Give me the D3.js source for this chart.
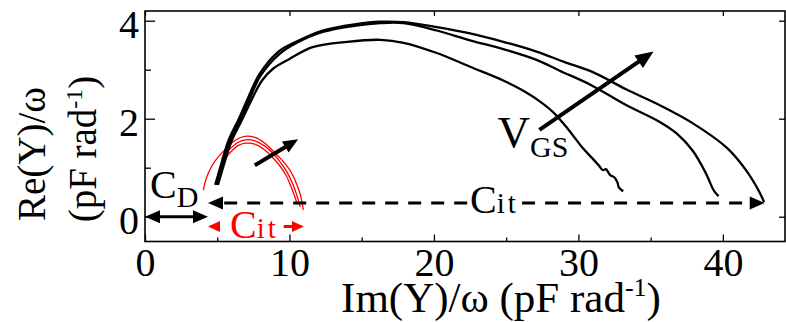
<!DOCTYPE html>
<html>
<head>
<meta charset="utf-8">
<script src="https://cdn.jsdelivr.net/npm/d3@7"></script>
<style>
  body { margin: 0; background: #fff; }
  svg { display: block; }
  text { font-family: "Liberation Serif", "Times New Roman", serif; }
</style>
</head>
<body>
<svg id="chart" width="786" height="322"></svg>
<script>
// Axis ticks
const xTicks = [0, 10, 20, 30, 40];
const xMinorTicks = [5, 15, 25, 35];
const yTicks = [0, 2, 4];
const yMinorTicks = [1, 3];

// Admittance loci [Im(Y)/ω, Re(Y)/ω] in pF rad^-1, three gate biases
const locusLow = [
  [5.05, 0.65], [5.5, 1.1], [6.0, 1.55], [6.7, 1.97], [7.4, 2.4], [8.1, 2.78], [8.9, 3.03],
  [10.0, 3.22], [11.6, 3.46], [14.0, 3.57], [16.3, 3.61], [17.9, 3.55], [20.2, 3.34],
  [22.5, 3.06], [24.8, 2.78], [26.0, 2.6], [27.2, 2.38], [28.3, 2.12], [29.3, 1.78],
  [30.3, 1.4], [31.0, 1.18], [31.4, 1.05], [31.7, 0.95], [31.9, 0.97], [32.2, 0.85],
  [32.5, 0.8], [32.7, 0.7], [32.8, 0.6], [33.1, 0.52]
];
const locusMid = [
  [4.96, 0.65], [5.4, 1.1], [5.9, 1.55], [6.6, 1.99], [7.3, 2.45], [8.0, 2.88], [9.3, 3.32],
  [10.45, 3.54], [12.3, 3.77], [14.6, 3.9], [16.3, 3.95], [17.9, 3.95], [20.2, 3.8],
  [22.5, 3.6], [24.8, 3.42], [27.1, 3.2], [28.7, 2.98], [30.8, 2.7], [33.3, 2.28],
  [35.6, 1.94], [36.8, 1.7], [37.9, 1.35], [38.8, 0.9], [39.4, 0.52], [39.7, 0.42]
];
const locusHigh = [
  [4.86, 0.65], [5.3, 1.1], [5.8, 1.57], [6.5, 2.0], [7.2, 2.47], [7.9, 2.9], [9.2, 3.36],
  [10.45, 3.57], [12.3, 3.8], [14.6, 3.93], [16.3, 3.98], [17.9, 3.97], [20.2, 3.87],
  [22.5, 3.74], [24.8, 3.57], [27.1, 3.37], [29.0, 3.16], [31.0, 2.95], [33.3, 2.6],
  [35.6, 2.28], [37.9, 1.91], [40.3, 1.4], [41.6, 0.95], [42.5, 0.52], [42.85, 0.3]
];

// Interface-trap arcs (red)
const trapOuter = [
  [4.04, 0.54], [4.26, 0.8], [4.6, 1.02], [4.96, 1.18], [5.65, 1.4], [6.3, 1.57], [6.9, 1.64],
  [7.6, 1.62], [8.3, 1.5], [8.9, 1.33], [9.5, 1.15], [10.03, 0.95], [10.45, 0.7],
  [10.75, 0.45], [10.96, 0.14]
];
const trapMid = [
  [5.3, 1.18], [5.8, 1.36], [6.4, 1.51], [6.95, 1.57], [7.6, 1.55], [8.3, 1.44], [8.9, 1.28],
  [9.4, 1.1], [9.85, 0.9], [10.25, 0.65], [10.55, 0.4], [10.75, 0.2]
];
const trapInner = [
  [5.5, 1.17], [6.0, 1.34], [6.5, 1.46], [7.0, 1.5], [7.6, 1.48], [8.2, 1.38], [8.8, 1.22],
  [9.3, 1.05], [9.75, 0.85], [10.1, 0.62], [10.4, 0.38], [10.55, 0.25]
];

// Annotation arrows [[x0, y0], [x1, y1]] in data units
const cdSpan = [[0, 0], [4.36, 0]];
const citSpan = [[4.36, 0.28], [42.9, 0.28]];
const citTrapSpan = [[4.36, -0.2], [11.0, -0.2]];
const vgsArrow = [[27.3, 1.77], [35.2, 3.37]];
const trapArrow = [[7.6, 1.05], [10.6, 1.58]];

const svg = d3.select("#chart");
const x = d3.scaleLinear().domain([0, 44.3]).range([145, 785]);
const y = d3.scaleLinear().domain([-0.506, 4.198]).range([241.5, 11]);
const [x0, x1] = x.range();
const [yb, yt] = y.range();

// Frame and ticks
const axes = svg.append("g").attr("class", "axes");
function styleAxis(g) {
  g.selectAll("path.domain").remove();
  g.selectAll(".tick line").attr("stroke", "#000").attr("stroke-width", 1.3);
}
axes.append("g").attr("transform", `translate(0,${yb})`)
  .call(d3.axisBottom(x).tickValues(xTicks).tickFormat(d3.format("d"))
    .tickSize(-7).tickSizeOuter(0).tickPadding(6))
  .call(styleAxis)
  .call(g => g.selectAll("text").attr("font-size", 40).attr("fill", "#000")
    .attr("font-family", "Liberation Serif, serif"));
axes.append("g").attr("transform", `translate(0,${yb})`)
  .call(d3.axisBottom(x).tickValues(xMinorTicks).tickSize(-4).tickFormat(""))
  .call(styleAxis);
axes.append("g").attr("transform", `translate(0,${yt})`)
  .call(d3.axisTop(x).tickValues(xTicks).tickSize(-5).tickFormat(""))
  .call(styleAxis);
axes.append("g").attr("transform", `translate(${x0},0)`)
  .call(d3.axisLeft(y).tickValues(yTicks).tickFormat(d3.format("d")).tickSize(-10).tickPadding(6))
  .call(styleAxis)
  .call(g => g.selectAll("text").attr("font-size", 40).attr("dy", "0.42em").attr("fill", "#000")
    .attr("font-family", "Liberation Serif, serif"));
axes.append("g").attr("transform", `translate(${x0},0)`)
  .call(d3.axisLeft(y).tickValues(yMinorTicks).tickSize(-6).tickFormat(""))
  .call(styleAxis);
axes.append("g").attr("transform", `translate(${x1},0)`)
  .call(d3.axisRight(y).tickValues(yTicks).tickSize(-6).tickFormat(""))
  .call(styleAxis);
axes.append("rect")
  .attr("x", x0).attr("y", yt).attr("width", x1 - x0).attr("height", yb - yt)
  .attr("fill", "none").attr("stroke", "#000").attr("stroke-width", 1.6);

// Axis titles
const xTitle = svg.append("text")
  .attr("x", 501).attr("y", 312).attr("text-anchor", "middle").attr("font-size", 43);
xTitle.append("tspan").text("Im(Y)/ω (pF rad");
xTitle.append("tspan").attr("font-size", 26).attr("dy", -16).text("-1");
xTitle.append("tspan").attr("dy", 16).text(")");

const yTitle = svg.append("g").attr("transform", "rotate(-90)");
yTitle.append("text").attr("x", -154).attr("y", 45).attr("text-anchor", "middle")
  .attr("font-size", 39).text("Re(Y)/ω");
const yTitle2 = yTitle.append("text").attr("x", -149).attr("y", 96).attr("text-anchor", "middle")
  .attr("font-size", 39);
yTitle2.append("tspan").text("(pF rad");
yTitle2.append("tspan").attr("font-size", 24).attr("dy", -14).text("-1");
yTitle2.append("tspan").attr("dy", 14).text(")");

// Loci
const line = d3.line().x(d => x(d[0])).y(d => y(d[1])).curve(d3.curveCatmullRom.alpha(0.5));

svg.append("g").selectAll("path")
  .data([trapOuter, trapMid, trapInner])
  .join("path")
  .attr("d", line).attr("fill", "none").attr("stroke", "#ff0000").attr("stroke-width", 1.3);

svg.append("g").selectAll("path")
  .data([locusLow, locusMid, locusHigh])
  .join("path")
  .attr("d", line).attr("fill", "none").attr("stroke", "#000").attr("stroke-width", 2.3)
  .attr("stroke-linejoin", "round");

// Arrow helper: shaft plus filled head at the end point (and optionally at the start)
function arrow(g, a, b, opt) {
  const ax = x(a[0]), ay = y(a[1]), bx = x(b[0]), by = y(b[1]);
  const dx = bx - ax, dy = by - ay, len = Math.hypot(dx, dy);
  const ux = dx / len, uy = dy / len;
  const hl = opt.head, hw = opt.headW / 2;
  const sx = opt.both ? ax + ux * hl * 0.8 : ax, sy = opt.both ? ay + uy * hl * 0.8 : ay;
  const ex = bx - ux * hl * 0.8, ey = by - uy * hl * 0.8;
  g.append("line").attr("x1", sx).attr("y1", sy).attr("x2", ex).attr("y2", ey)
    .attr("stroke", opt.color).attr("stroke-width", opt.width)
    .attr("stroke-dasharray", opt.dash || null);
  const head = (tx, ty, vx, vy) => {
    const bxp = tx - vx * hl, byp = ty - vy * hl;
    g.append("path")
      .attr("d", `M${tx},${ty}L${bxp - vy * hw},${byp + vx * hw}L${bxp + vy * hw},${byp - vx * hw}Z`)
      .attr("fill", opt.color);
  };
  head(bx, by, ux, uy);
  if (opt.both) head(ax, ay, -ux, -uy);
}

const ann = svg.append("g");
arrow(ann, trapArrow[0], trapArrow[1], { color: "#000", width: 4, head: 15, headW: 13 });
arrow(ann, vgsArrow[0], vgsArrow[1], { color: "#000", width: 4, head: 18, headW: 15 });
arrow(ann, cdSpan[0], cdSpan[1], { color: "#000", width: 3, head: 15, headW: 13, both: true });

// C_it span: dashed double arrow, interrupted by its label
const citLabelX = 22.5;
const citGapL = 22.3, citGapR = 26.1;
arrow(ann, [citGapL, citSpan[0][1]], citSpan[0], { color: "#000", width: 3, head: 15, headW: 13, dash: "13,10" });
arrow(ann, [citGapR, citSpan[1][1]], citSpan[1], { color: "#000", width: 3, head: 15, headW: 13, dash: "13,10" });

// Trap C_it span: red arrows outward from the label
arrow(ann, [5.0, citTrapSpan[0][1]], citTrapSpan[0], { color: "#ff0000", width: 3, head: 12, headW: 11 });
arrow(ann, [9.6, citTrapSpan[1][1]], citTrapSpan[1], { color: "#ff0000", width: 3, head: 12, headW: 11 });

// Labels with subscripts
function subLabel(px, py, main, sub, o) {
  const t = svg.append("text").attr("x", x(px)).attr("y", y(py)).attr("fill", o.color || "#000")
    .attr("font-size", o.size);
  t.append("tspan").text(main);
  t.append("tspan").attr("font-size", o.subSize).attr("dy", o.shift)
    .attr("letter-spacing", o.spacing || 0).text(sub);
}
subLabel(0.35, 0.38, "C", "D", { size: 40, subSize: 30, shift: 9 });
subLabel(citLabelX, 0.075, "C", "it", { size: 40, subSize: 29, shift: 0, spacing: 3 });
subLabel(5.88, -0.43, "C", "it", { size: 40, subSize: 29, shift: 0, spacing: 3, color: "#ff0000" });
subLabel(24.4, 1.42, "V", "GS", { size: 45, subSize: 30, shift: 10 });
</script>
</body>
</html>
